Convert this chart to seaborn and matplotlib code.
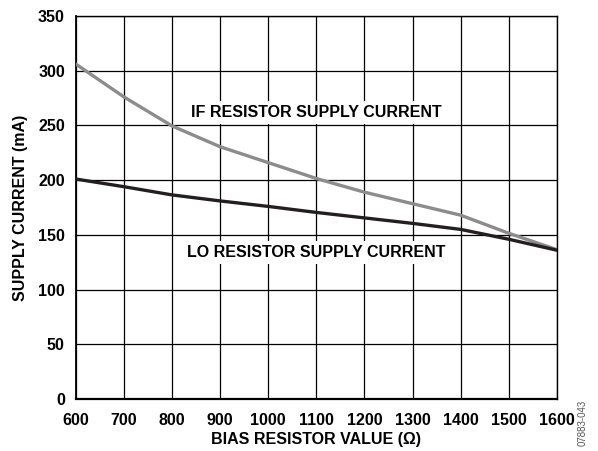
import pandas as pd
import matplotlib
matplotlib.use("Agg")
import matplotlib.pyplot as plt
import seaborn as sns

# values
bias_resistor = [600, 700, 800, 900, 1000, 1100, 1200, 1300, 1400, 1500, 1600]
if_current = [306, 276, 249.5, 230.5, 216, 201.5, 189, 178.5, 168, 151.5, 136.5]
lo_current = [201, 194, 186.5, 181, 176, 170.5, 165.5, 160.5, 155, 146, 136]

df = pd.concat([
    pd.DataFrame({"bias": bias_resistor, "current": if_current, "curve": "IF"}),
    pd.DataFrame({"bias": bias_resistor, "current": lo_current, "curve": "LO"}),
])

sns.set_style("white")
plt.rcParams["font.family"] = ["Liberation Sans", "DejaVu Sans"]
plt.rcParams["font.weight"] = "bold"
plt.rcParams["text.color"] = "black"
plt.rcParams["axes.labelcolor"] = "black"
plt.rcParams["xtick.color"] = "black"
plt.rcParams["ytick.color"] = "black"

fig = plt.figure(figsize=(5.98, 4.51), dpi=100)
ax = fig.add_axes([0.127, 0.1153, 0.804, 0.8492])

sns.lineplot(data=df, x="bias", y="current", hue="curve",
             palette={"IF": "#8c8c8c", "LO": "#231f20"},
             linewidth=2.4, legend=False, ax=ax, zorder=3)

ax.set_xlim(600, 1600)
ax.set_ylim(0, 350)
ax.set_xticks(range(600, 1601, 100))
ax.set_yticks(range(0, 351, 50))
ax.grid(True, color="black", linewidth=0.9)
ax.set_axisbelow(True)
for s in ax.spines.values():
    s.set_color("black")
    s.set_linewidth(1.0)
ax.spines["left"].set_linewidth(1.3)
ax.spines["bottom"].set_linewidth(1.6)
ax.tick_params(axis="both", length=0, labelsize=11.5)
ax.tick_params(axis="x", pad=10)
ax.tick_params(axis="y", pad=8)
for lbl in ax.get_xticklabels() + ax.get_yticklabels():
    lbl.set_fontweight("bold")

ax.set_xlabel("BIAS RESISTOR VALUE (Ω)", fontsize=11.5, fontweight="bold", labelpad=3)
ax.set_ylabel("SUPPLY CURRENT (mA)", fontsize=11.5, fontweight="bold", labelpad=7)

box = dict(facecolor="white", edgecolor="none", pad=3)
ax.text(1100, 262, "IF RESISTOR SUPPLY CURRENT", ha="center", va="center",
        fontsize=11.5, fontweight="bold", bbox=box, zorder=4)
ax.text(1100, 134, "LO RESISTOR SUPPLY CURRENT", ha="center", va="center",
        fontsize=11.5, fontweight="bold", bbox=box, zorder=4)

fig.text(0.975, 0.01, "07883-043", rotation=90, fontsize=7, color="#555555",
         fontweight="normal", ha="center", va="bottom")

fig.savefig("out.png", dpi=100)
